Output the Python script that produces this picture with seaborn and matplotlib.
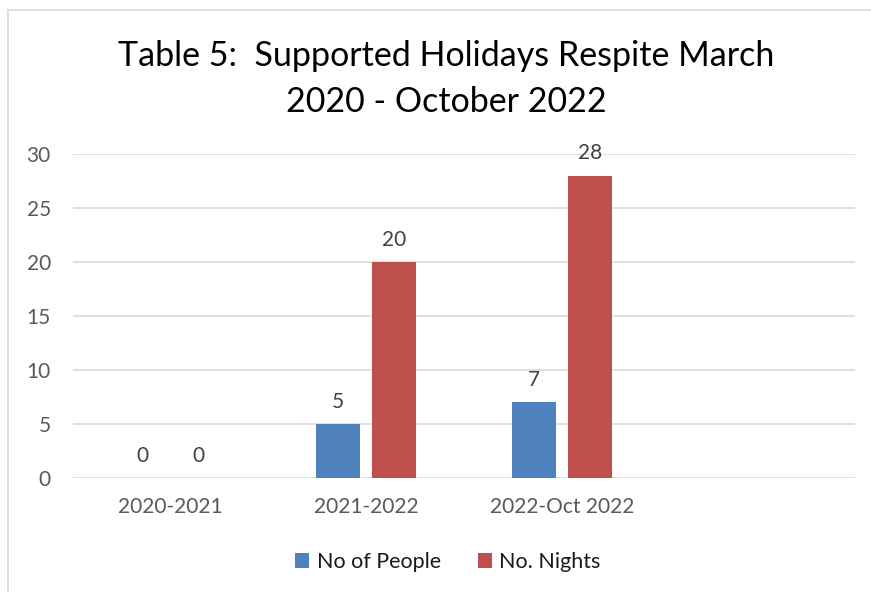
import seaborn as sns
from matplotlib import pyplot as plt
from matplotlib.patches import Rectangle
import pandas as pd

sns.set_theme(style='white')
plt.rcParams['font.family'] = ['Lato', 'DejaVu Sans']

periods = ['2020-2021', '2021-2022', '2022-Oct 2022']
people = [0, 5, 7]
nights = [0, 20, 28]
series = ['No of People', 'No. Nights']
colors = ['#4F81BD', '#C0504D']

df = pd.DataFrame({
    'period': periods * 2,
    'value': people + nights,
    'series': [series[0]] * len(periods) + [series[1]] * len(periods),
})

f = plt.figure(figsize=(8.71, 5.92), dpi=100)
ax = f.add_axes([73 / 871, 114 / 592, 782 / 871, 324 / 592])

# chart border like the office export
f.patches.append(Rectangle((8 / 871, -0.1), 1.1, (592 - 10) / 592 + 0.1,
                           transform=f.transFigure, fill=False,
                           edgecolor='#D9D9D9', linewidth=1.2))

sns.barplot(x='period', y='value', hue='series', data=df, order=periods,
            hue_order=series, palette=colors, width=0.573, gap=0.214,
            saturation=1, linewidth=0, ax=ax, legend=True)

for c in ax.containers:
    ax.bar_label(c, fmt='%d', padding=9, fontsize=15, color='#404040')

ax.set_xlim(-0.5, 3.5)
ax.set_ylim(0, 30)
ax.set_yticks(range(0, 31, 5))
ax.yaxis.grid(True, color='#D9D9D9', linewidth=1.2)
ax.set_axisbelow(True)
for s in ax.spines.values():
    s.set_visible(False)
ax.tick_params(axis='both', length=0, labelsize=15, colors='#595959')
ax.tick_params(axis='y', pad=16)
ax.tick_params(axis='x', pad=14)
ax.set_xlabel('')
ax.set_ylabel('')

ax.legend(loc='center', bbox_to_anchor=(448 / 871, (592 - 562) / 592),
          bbox_transform=f.transFigure, ncol=2, frameon=False,
          fontsize=15.5, handlelength=0.65, handleheight=0.65,
          columnspacing=1.7, handletextpad=0.35, labelcolor='#1a1a1a')

f.text(446 / 871, (592 - 79) / 592, 'Table 5:  Supported Holidays Respite March\n2020 - October 2022',
       ha='center', va='center', fontsize=24.5, color='black', linespacing=1.5)

plt.savefig('out.png', dpi=100)
